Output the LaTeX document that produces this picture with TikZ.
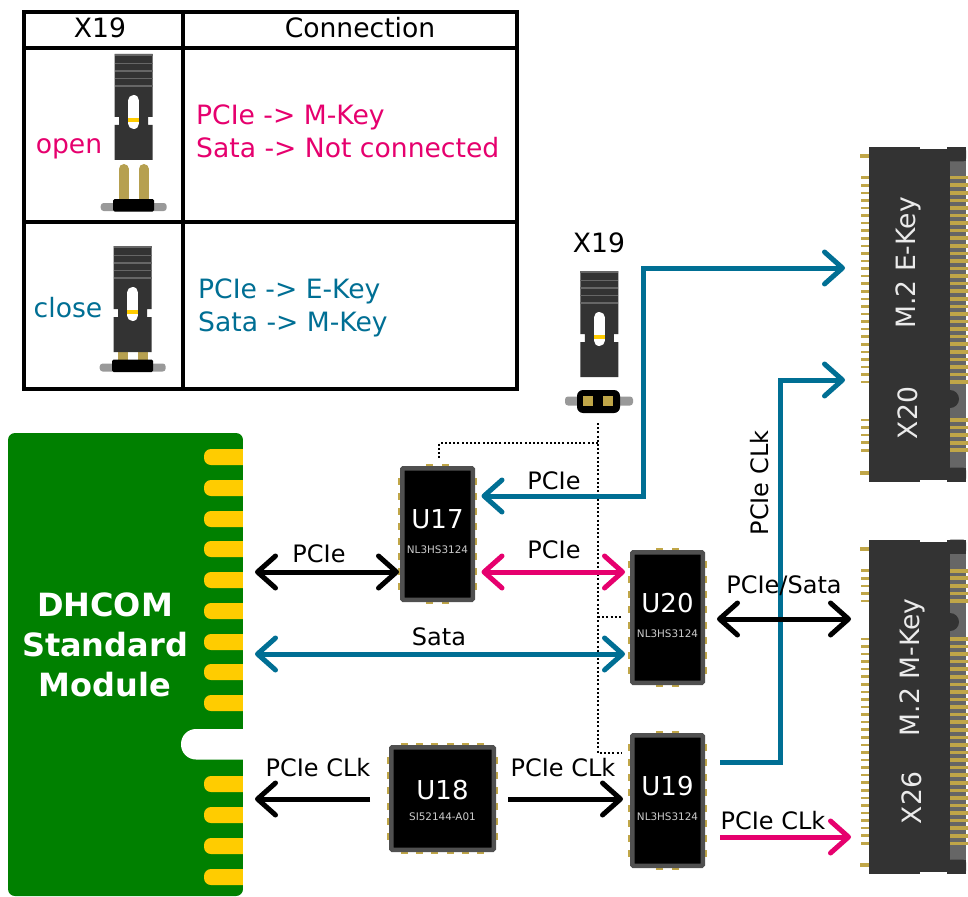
\documentclass[tikz,border=0pt]{standalone}
\usepackage{fontspec}
\setmainfont{DejaVu Sans}
\usetikzlibrary{arrows.meta,calc}
\definecolor{cblue}{HTML}{006F94}
\definecolor{cpink}{HTML}{E6006E}
\definecolor{cgreen}{HTML}{008000}
\definecolor{cgold}{HTML}{FFCC00}
\definecolor{cpin}{HTML}{C0A648}
\definecolor{cdark}{HTML}{333333}
\definecolor{cgrey}{HTML}{666666}
\definecolor{cedge}{HTML}{505050}
\newcommand{\fs}[1]{\fontsize{#1}{#1}\selectfont}
\tikzset{
  x=1pt,y=-1pt,
  wire/.style={line width=5pt,line join=miter},
  both/.style={wire,{Straight Barb[round,length=18pt,width=32pt]}-{Straight Barb[round,length=18pt,width=32pt]}},
  tiponly/.style={wire,-{Straight Barb[round,length=18pt,width=32pt]}},
  txt/.style={font=\fs{26.6},inner sep=0pt,text=black},
  wlab/.style={font=\fs{24},inner sep=0pt,text=black,anchor=base},
  chipbox/.style={draw=cedge,fill=black,line width=4.5pt,rounded corners=1pt,outer sep=2.25pt,inner sep=0pt,text=white,align=center},
  padh/.style={fill=cpin,draw=none},
  m2box/.style={fill=cdark,draw=none,minimum width=97pt,minimum height=334pt,outer sep=0pt,inner sep=0pt},
  m2lab/.style={font=\fs{26.6},text=white!92!black,rotate=90,inner sep=0pt},
  dots/.style={line width=2pt,dash pattern=on 2pt off 2.2pt,black},
  grid/.style={line width=4pt,black},
}
\newcommand{\chipgap}{13pt}
\newcommand{\chiptrail}{-8pt}
% chip: name, cx, cy, outer width, outer height, pads across, pads down, label, sublabel
\newcommand{\chipic}[9]{%
  \foreach \i in {1,...,#6}{
    \pgfmathsetmacro{\dx}{(\i-(#6+1)/2)*15.2}
    \fill[padh] ({#2+\dx-3.5},{#3-#5/2-2}) rectangle ({#2+\dx+3.5},{#3+#5/2+2});
  }
  \foreach \i in {1,...,#7}{
    \pgfmathsetmacro{\dy}{(\i-(#7+1)/2)*15.1}
    \fill[padh] ({#2-#4/2-2},{#3+\dy-3.5}) rectangle ({#2+#4/2+2},{#3+\dy+3.5});
  }
  \node[chipbox,minimum width={(#4-4.5)*1pt},minimum height={(#5-4.5)*1pt}] (#1) at (#2,#3)
    {{\fs{26}#8}\\[\chipgap]{\fs{10.4}\textcolor{white!80!black}{#9}}\\[\chiptrail]\rule{0pt}{7pt}};
}
% jumper body
\newcommand{\jumperbody}[2]{%
  \begin{scope}[shift={(#1,#2)}]
    \fill[cdark] (-19,0) -- (19,0) -- (19,63) -- (14.5,63) -- (14.5,71) -- (19,71) -- (19,106) -- (-19,106) -- (-19,71) -- (-14.5,71) -- (-14.5,63) -- (-19,63) -- cycle;
    \foreach \yy in {1,9.5,17,24.5,32}{\draw[cgrey,line width=1.5pt] (-19,\yy) -- (19,\yy);}
    \draw[white,line width=11pt,line cap=round] (0,46.5) -- (0,69.5);
    \fill[cgold] (-5.5,64) rectangle (5.5,68);
  \end{scope}
}
% shadow and black body of the pin header
\newcommand{\jumperbase}[2]{%
  \begin{scope}[shift={(#1,#2)}]
    \fill[gray!80,rounded corners=3pt] (-33,4) rectangle (33,12);
    \fill[black,rounded corners=1.5pt] (-20.5,0) rectangle (20.5,12.5);
  \end{scope}
}
% M.2 connector
\newcommand{\mtwo}[3]{%
  \node[m2box] (#1) at (917.5,#2) {};
  \begin{scope}[shift={(0,#2)},yscale=#3]
    \fill[cgrey] (950,-153) -- (966,-153) -- (966,153) -- (950,153) -- cycle;
    \fill[cdark,rounded corners=3pt] (948,-167) rectangle (966,-153);
    \fill[cdark,rounded corners=3pt] (948,153) rectangle (966,167);
    \fill[cdark] (950,84.5) circle (9);
    \fill[white] (920,-167) rectangle (947,-165);
    \fill[white] (920,167) rectangle (947,165);
    \fill[cpin] (860,-160) rectangle (869,-156);
    \fill[cpin] (860,156) rectangle (869,160);
    \foreach \i in {0,...,27}{
      \pgfmathsetmacro{\py}{-136.8+\i*7.57}
      \fill[cpin] (861,\py-1.3) rectangle (869,\py+1.3);
      \fill[cpin] (950,\py-1.8) rectangle (967.5,\py+1.8);
    }
    \foreach \i in {0,...,4}{
      \pgfmathsetmacro{\py}{105.5+\i*7.57}
      \fill[cpin] (861,\py-1.3) rectangle (869,\py+1.3);
      \fill[cpin] (950,\py-1.8) rectangle (967.5,\py+1.8);
    }
  \end{scope}
}
\begin{document}
\begin{tikzpicture}
\useasboundingbox (0,0) rectangle (968,896);
\fill[white] (0,0) rectangle (968,896);

% table
\draw[grid] (24,12) rectangle (517,389);
\draw[grid] (24,48) -- (517,48);
\draw[grid] (24,222) -- (517,222);
\draw[grid] (183,12) -- (183,389);
\node[txt,anchor=base] (hx) at (100,38) {X19};
\node[txt,anchor=base] (hc) at (360,38) {Connection};
\node[txt,anchor=base,text=cpink] (lopen) at (69,154) {open};
\node[txt,anchor=base,text=cblue] (lclose) at (68,317) {close};
\node[txt,anchor=base west,text=cpink] (o1) at (196,125) {PCIe -> M-Key};
\node[txt,anchor=base west,text=cpink] (o2) at (196,158) {Sata -> Not connected};
\node[txt,anchor=base west,text=cblue] (c1) at (198,298) {PCIe -> E-Key};
\node[txt,anchor=base west,text=cblue] (c2) at (198,331) {Sata -> M-Key};

% open jumper
\draw[cpin!85!gray,line width=10pt,line cap=round] (123.7,169) -- (123.7,200);
\draw[cpin!85!gray,line width=10pt,line cap=round] (143.7,169) -- (143.7,200);
\jumperbody{133.7}{54}
\jumperbase{133.7}{199}
% closed jumper
\fill[cpin!85!gray] (117.7,350) rectangle (127.7,361);
\fill[cpin!85!gray] (137.7,350) rectangle (147.7,361);
\jumperbody{132.7}{246}
\jumperbase{132.7}{359.5}

% centre jumper
\node[txt,anchor=base] (x19) at (599,252) {X19};
\jumperbody{599.3}{271}
\fill[gray!80,rounded corners=3pt] (565,396.5) rectangle (633,405.5);
\fill[black,rounded corners=6pt] (577,390) rectangle (620,413);
\fill[cpin] (583,396) rectangle (593,406);
\fill[cpin] (603,396) rectangle (613,406);
\coordinate (jmp) at (598,423);

% DHCOM module
\node[fill=cgreen,draw=none,rounded corners=7pt,minimum width=235pt,minimum height=463pt,outer sep=0pt,inner sep=0pt] (dhcom) at (125.5,664.5) {};
\foreach \fy in {457,488,519,549,580,611,642,672,703,784,815,846,877}{
  \fill[cgold,rounded corners=7pt] (204,\fy-8) rectangle (250,\fy+8);
}
\fill[white] (243,433) rectangle (252,896);
\fill[white,rounded corners=15pt] (181,729) rectangle (260,759.5);
\fill[white] (243,725) rectangle (252,765);
\node[inner sep=0pt,align=center,text=white,font=\bfseries\fontsize{32}{40}\selectfont] (dhlab) at (105,645) {DHCOM\\Standard\\Module};

% chips
\chipic{u17}{437.5}{534}{75}{136}{2}{8}{U17}{NL3HS3124}
\chipic{u20}{667.5}{617.5}{75}{135}{2}{8}{U20}{NL3HS3124}
\chipic{u19}{667.5}{800.5}{75}{135}{2}{8}{U19}{NL3HS3124}
\renewcommand{\chipgap}{9pt}
\renewcommand{\chiptrail}{-15pt}
\chipic{u18}{442.5}{798.5}{107}{107}{6}{6}{U18}{SI52144-A01}

% M.2
\mtwo{ekey}{314.5}{1}
\mtwo{mkey}{706.5}{-1}
\node[m2lab] (e1) at (908,263) {M.2 E-Key};
\node[m2lab] (e2) at (908,413) {X20};
\node[m2lab] (m1) at (912,667.5) {M.2 M-Key};
\node[m2lab] (m2) at (912,798) {X26};

% dotted control lines
\coordinate (ctrl19) at ($(u19.west)+(-8,-47.5)$);
\coordinate (ctrl20) at ($(u20.west)+(-8,-0.5)$);
\coordinate (ctrl17) at ($(u17.north)+(1.5,-8)$);
\draw[dots] (jmp) |- (ctrl19);
\draw[dots] (598,443) -| (ctrl17);
\draw[dots] (jmp |- ctrl20) -- (ctrl20);

% connectors
\draw[both,cblue] ($(ekey.west)+(-24,-46.5)$) -- ++(-202,0) |- ($(u17.east)+(6.5,-38)$);
\draw[tiponly,cblue] ($(u19.east)+(15,-38.5)$) -| (780,380) -- ($(ekey.west)+(-24,65.5)$);
\draw[both,cpink] ($(u17.east)+(6.5,38)$) -- ($(u20.west)+(-5,-45.5)$);
\draw[both,black] ($(dhcom.east)+(12,-92.5)$) -- ($(u17.west)+(-1,38)$);
\draw[both,cblue] ($(dhcom.east)+(12,-10.5)$) -- ($(u20.west)+(-5,36.5)$);
\draw[both,black] ($(u20.east)+(12,1.5)$) -- ($(mkey.west)+(-18,-87.5)$);
\draw[tiponly,black] ($(u18.west)+(-19,0.5)$) -- ($(dhcom.east)+(12,134.5)$);
\draw[tiponly,black] ($(u18.east)+(12,0.5)$) -- ($(u19.west)+(-7,-1.5)$);
\draw[tiponly,cpink] ($(u19.east)+(15,36.5)$) -- ($(mkey.west)+(-18,130.5)$);

% connector labels
\node[wlab] (l1) at (319,562) {PCIe};
\node[wlab] (l2) at (554,489) {PCIe};
\node[wlab] (l3) at (554,558) {PCIe};
\node[wlab] (l4) at (439,645) {Sata};
\node[wlab] (l5) at (784,593) {PCIe/Sata};
\node[wlab] (l6) at (318,776) {PCIe CLk};
\node[wlab] (l7) at (563,776) {PCIe CLk};
\node[wlab] (l8) at (773,829) {PCIe CLk};
\node[font=\fs{24},inner sep=0pt,rotate=90,text=black] (l9) at (760,483) {PCIe CLk};
\end{tikzpicture}
\end{document}
